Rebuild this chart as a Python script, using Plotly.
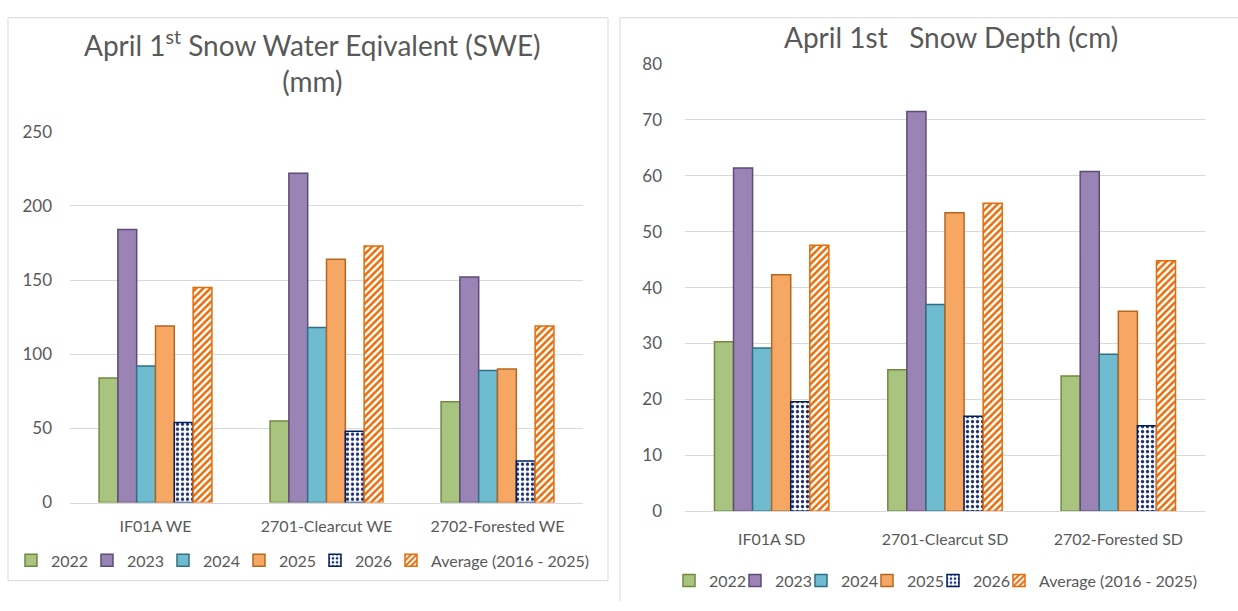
import plotly.graph_objects as go

W, H = 1238, 611

# ---------------- data ----------------
sites_we = ["IF01A WE", "2701-Clearcut WE", "2702-Forested WE"]
sites_sd = ["IF01A SD", "2701-Clearcut SD", "2702-Forested SD"]
series_names = ["2022", "2023", "2024", "2025", "2026", "Average (2016 - 2025)"]

swe_2022 = [84, 55, 68]
swe_2023 = [184, 222, 152]
swe_2024 = [92, 118, 89]
swe_2025 = [119, 164, 90]
swe_2026 = [54, 48, 28]
swe_avg = [145, 173, 119]

sd_2022 = [30.3, 25.3, 24.2]
sd_2023 = [61.4, 71.5, 60.8]
sd_2024 = [29.2, 37.0, 28.1]
sd_2025 = [42.3, 53.4, 35.8]
sd_2026 = [19.6, 17.0, 15.3]
sd_avg = [47.6, 55.1, 44.8]

swe_tickvals = [0, 50, 100, 150, 200, 250]
sd_tickvals = [0, 10, 20, 30, 40, 50, 60, 70, 80]

# ---------------- styles ----------------
FONT = "Lato"
TXT = "#595959"
GRID = "#D9D9D9"
FS = 16

styles = [
    dict(color="#A9C47F", line=dict(color="#71893F", width=1.5)),
    dict(color="#9A84B5", line=dict(color="#5E4B76", width=1.5)),
    dict(color="#6FBCD0", line=dict(color="#2F6F82", width=1.5)),
    dict(color="#F7A764", line=dict(color="#B5661F", width=1.5)),
    dict(color="#FFFFFF", line=dict(color="#002060", width=1.5),
         pattern=dict(shape=".", fgcolor="#1F2F6B", bgcolor="#FFFFFF",
                      size=5, solidity=0.35, fillmode="replace")),
    dict(color="#FFFFFF", line=dict(color="#E46C0A", width=1.5),
         pattern=dict(shape="/", fgcolor="#E46C0A", bgcolor="#FFFFFF",
                      size=5, solidity=0.5, fillmode="replace")),
]


def px_x(p):
    return p / W


def px_y(p):
    return 1 - p / H


tick_font = dict(family=FONT, size=FS, color=TXT)
ytick_font = dict(family=FONT, size=17, color=TXT)
leg_font = dict(family=FONT, size=FS, color=TXT)

fig = go.Figure()

swe_series = [swe_2022, swe_2023, swe_2024, swe_2025, swe_2026, swe_avg]
sd_series = [sd_2022, sd_2023, sd_2024, sd_2025, sd_2026, sd_avg]

# each legend entry gets its own small legend so entries can sit as tightly as in the reference
LEFT_LEG_X0, LEFT_LEG_STEP, LEFT_LEG_Y = 30, 76, 569
RIGHT_LEG_X0, RIGHT_LEG_STEP, RIGHT_LEG_Y = 688, 66, 590
SYMBOL_OFFSET = 19

legends = {}
n = len(series_names)
for i, (name, vals, st) in enumerate(zip(series_names, swe_series, styles)):
    key = "legend" if i == 0 else f"legend{i + 1}"
    legends[key] = (LEFT_LEG_X0 + LEFT_LEG_STEP * i - SYMBOL_OFFSET, LEFT_LEG_Y)
    fig.add_trace(go.Bar(x=sites_we, y=vals, name=name, marker=st, showlegend=True,
                         xaxis="x", yaxis="y", legend=key))
for i, (name, vals, st) in enumerate(zip(series_names, sd_series, styles)):
    key = f"legend{n + i + 1}"
    legends[key] = (RIGHT_LEG_X0 + RIGHT_LEG_STEP * i - SYMBOL_OFFSET, RIGHT_LEG_Y)
    fig.add_trace(go.Bar(x=sites_sd, y=vals, name=name, marker=st, showlegend=True,
                         xaxis="x2", yaxis="y2", legend=key))

legend_layout = {
    key: dict(orientation="h", x=px_x(x), y=px_y(y), xanchor="left", yanchor="middle",
              font=leg_font, itemwidth=30, bgcolor="rgba(0,0,0,0)", visible=True)
    for key, (x, y) in legends.items()
}

fig.update_layout(
    width=W, height=H,
    margin=dict(l=0, r=0, t=0, b=0),
    paper_bgcolor="white", plot_bgcolor="white",
    showlegend=True,
    barmode="group", bargap=0.34, bargroupgap=0,
    font=dict(family=FONT, color=TXT),
    xaxis=dict(domain=[px_x(70), px_x(583)], anchor="y",
               showline=True, linecolor=GRID, linewidth=1,
               ticks="", ticklabelstandoff=9, tickfont=tick_font),
    yaxis=dict(domain=[px_y(509), px_y(125)], anchor="x", range=[0, 250],
               tickvals=swe_tickvals, showgrid=True, gridcolor=GRID, gridwidth=1,
               zeroline=False, ticks="", ticklabelstandoff=17, tickfont=ytick_font),
    xaxis2=dict(domain=[px_x(685), px_x(1205)], anchor="y2",
                showline=True, linecolor=GRID, linewidth=1,
                ticks="", ticklabelstandoff=14, tickfont=tick_font),
    yaxis2=dict(domain=[px_y(518), px_y(55)], anchor="x2", range=[0, 80],
                tickvals=sd_tickvals, showgrid=True, gridcolor=GRID, gridwidth=1,
                zeroline=False, ticks="", ticklabelstandoff=22, tickfont=ytick_font),
    shapes=[
        # left panel frame
        dict(type="rect", xref="paper", yref="paper",
             x0=px_x(8), x1=px_x(608), y0=px_y(590), y1=px_y(7),
             line=dict(color=GRID, width=1), fillcolor="rgba(0,0,0,0)", layer="below"),
        # right panel frame (top and left edges only; continues past the window)
        dict(type="line", xref="paper", yref="paper",
             x0=px_x(620), x1=1, y0=px_y(7), y1=px_y(7),
             line=dict(color=GRID, width=1), layer="below"),
        dict(type="line", xref="paper", yref="paper",
             x0=px_x(620), x1=px_x(620), y0=0, y1=px_y(7),
             line=dict(color=GRID, width=1), layer="below"),
    ],
    annotations=[
        dict(text="April 1<sup>st</sup> Snow Water Eqivalent (SWE)<br>(mm)",
             xref="paper", yref="paper", x=px_x(312), y=px_y(52),
             xanchor="center", yanchor="middle", showarrow=False, align="center",
             font=dict(family=FONT, size=28, color=TXT)),
        dict(text="April 1st\u00a0\u00a0 Snow Depth (cm)",
             xref="paper", yref="paper", x=px_x(951), y=px_y(27),
             xanchor="center", yanchor="middle", showarrow=False,
             font=dict(family=FONT, size=28, color=TXT)),
    ],
    **legend_layout,
)

fig.write_html(
    "out.html",
    config={"displayModeBar": False},
    post_script="document.body.style.margin='0';document.body.style.overflow='hidden';",
)
